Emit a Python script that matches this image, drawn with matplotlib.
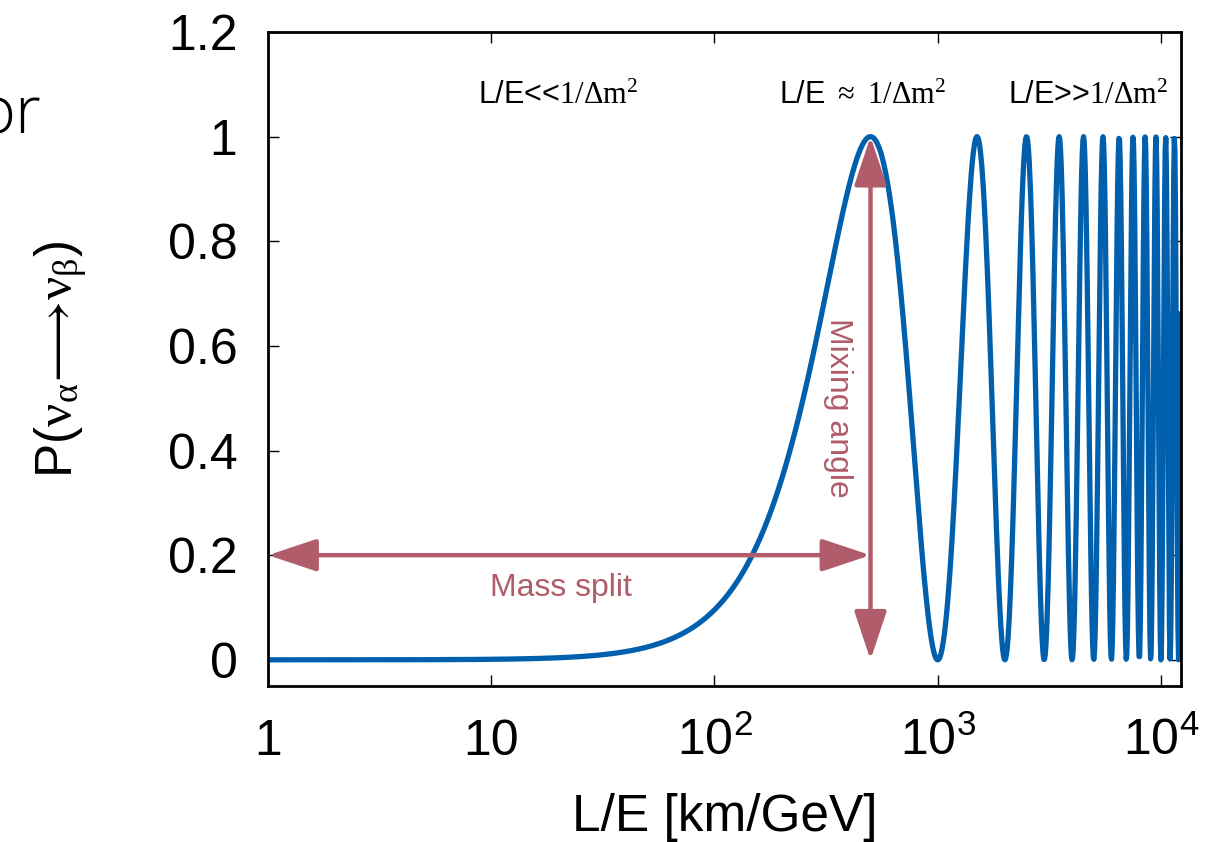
import numpy as np
import matplotlib
matplotlib.use('Agg')
import matplotlib.pyplot as plt

plt.rcParams['font.family'] = ['Liberation Sans', 'DejaVu Sans']
plt.rcParams['mathtext.fontset'] = 'custom'
plt.rcParams['mathtext.rm'] = 'Liberation Serif'
plt.rcParams['mathtext.it'] = 'Liberation Serif:italic'
plt.rcParams['mathtext.sf'] = 'Liberation Sans'

# oscillation parameters (first maximum at L/E ~ 500 km/GeV)
dm2 = 2.48e-3        # eV^2
sin2_2theta = 1.0
le_min, le_max = 1.0, 12300.0
n_samples = 1500

x_ticks = [1, 10, 100, 1000, 10000]
x_ticklabels = ['1', '10', r'$\mathsf{10^{2}}$', r'$\mathsf{10^{3}}$', r'$\mathsf{10^{4}}$']
y_ticks = [0, 0.2, 0.4, 0.6, 0.8, 1.0, 1.2]
y_ticklabels = ['0', '0.2', '0.4', '0.6', '0.8', '1', '1.2']

regime_labels = [r'L/E<<$\mathrm{1/\Delta m^{2}}$',
                 r'L/E $\approx$ $\mathrm{1/\Delta m^{2}}$',
                 r'L/E>>$\mathrm{1/\Delta m^{2}}$']
regime_x = [20, 463, 4720]

le = np.logspace(np.log10(le_min), np.log10(le_max), n_samples)
prob = sin2_2theta * np.sin(1.267 * dm2 * le) ** 2

blue = '#0060ad'
red = '#b05c6a'

fig = plt.figure(figsize=(12.31, 8.42), dpi=100)
ax = fig.add_axes([0.2177, 0.1853, 0.7417, 0.7767])

ax.plot(le, prob, color=blue, lw=3.8, solid_joinstyle='round')

ax.set_xscale('log')
ax.set_xlim(le_min, le_max)
ax.set_ylim(-0.05, 1.2)
ax.set_xticks(x_ticks)
ax.set_xticklabels(x_ticklabels)
ax.xaxis.set_minor_locator(matplotlib.ticker.NullLocator())
ax.set_yticks(y_ticks)
ax.set_yticklabels(y_ticklabels)
ax.tick_params(direction='in', length=8, width=1.0, top=True, right=True, labelsize=36)
ax.tick_params(axis='x', pad=50)
ax.tick_params(axis='y', pad=22)
for lab in ax.get_xticklabels():
    lab.set_va('baseline')
for s in ax.spines.values():
    s.set_linewidth(2.0)

ax.set_xlabel('L/E [km/GeV]', fontsize=37)
ax.xaxis.set_label_coords(0.5, -0.164)
ax.set_ylabel(r'P($\mathrm{\nu_{\alpha}\!\longrightarrow\!\nu_{\beta}}$)', fontsize=37)
ax.yaxis.set_label_coords(-0.195, 0.5)

arrow = dict(arrowstyle='<|-|>,head_length=1.5,head_width=0.5', color=red, lw=3.2,
             shrinkA=0, shrinkB=0, mutation_scale=20)
ax.annotate('', xy=(500, 0.2), xytext=(1, 0.2), arrowprops=arrow)
ax.annotate('', xy=(500, 0.0), xytext=(500, 1.0), arrowprops=arrow)
ax.text(20.5, 0.137, 'Mass split', color=red, fontsize=23, ha='center', va='center')
ax.text(356, 0.482, 'Mixing angle', color=red, fontsize=23, ha='center', va='center',
        rotation=-90)

for lab, xpos in zip(regime_labels, regime_x):
    ax.text(xpos, 1.062, lab, fontsize=22, ha='center', va='baseline')

fig.text(-0.019, 0.842, 'or', fontsize=48, family='Open Sans', fontweight='light',
         ha='left', va='baseline')

fig.savefig('out.png', dpi=100)
